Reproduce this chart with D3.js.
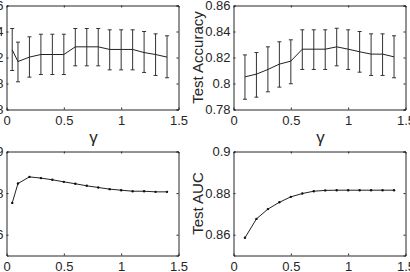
<!DOCTYPE html>
<html>
<head>
<meta charset="utf-8">
<script src="https://cdn.jsdelivr.net/npm/d3@7"></script>
<style>
  body { margin: 0; background: #fff; }
  svg { display: block; font-family: "Liberation Sans", Arial, sans-serif; }
</style>
</head>
<body>
<div id="chart"></div>
<script>
// data
var gammaA = [0.05, 0.1, 0.2, 0.3, 0.4, 0.5, 0.6, 0.7, 0.8, 0.9, 1.0, 1.1, 1.2, 1.3, 1.4];
var accA   = [0.8259, 0.8169, 0.8203, 0.8223, 0.8223, 0.8223, 0.8282, 0.8282, 0.8282, 0.8262, 0.8262, 0.8262, 0.8238, 0.8223, 0.8203];
var accAHi = [0.8423, 0.8318, 0.8359, 0.8379, 0.8379, 0.8379, 0.8423, 0.8423, 0.8423, 0.8413, 0.8413, 0.8413, 0.8400, 0.8382, 0.8367];
var accALo = [0.8100, 0.8013, 0.8049, 0.8069, 0.8069, 0.8069, 0.8136, 0.8136, 0.8136, 0.8105, 0.8105, 0.8105, 0.8085, 0.8062, 0.8044];

var gammaB = [0.1, 0.2, 0.3, 0.4, 0.5, 0.6, 0.7, 0.8, 0.9, 1.0, 1.1, 1.2, 1.3, 1.4];
var accB   = [0.8051, 0.8072, 0.8108, 0.8149, 0.8172, 0.8264, 0.8264, 0.8264, 0.8282, 0.8264, 0.8244, 0.8226, 0.8226, 0.8205];
var accBHi = [0.8220, 0.8238, 0.8282, 0.8321, 0.8336, 0.8413, 0.8413, 0.8413, 0.8425, 0.8413, 0.8400, 0.8382, 0.8382, 0.8367];
var accBLo = [0.7879, 0.7895, 0.7936, 0.7972, 0.7998, 0.8108, 0.8108, 0.8108, 0.8136, 0.8108, 0.8087, 0.8062, 0.8062, 0.8044];

var aucA = [0.8753, 0.8846, 0.8878, 0.8872, 0.8864, 0.8854, 0.8845, 0.8835, 0.8827, 0.8819, 0.8814, 0.8809, 0.8809, 0.8806, 0.8806];
var aucB = [0.8585, 0.8676, 0.8723, 0.8756, 0.8782, 0.8798, 0.8809, 0.8813, 0.8814, 0.8814, 0.8814, 0.8814, 0.8814, 0.8814];

var xTicks = [0, 0.5, 1, 1.5];
var accTicks = [0.78, 0.8, 0.82, 0.84, 0.86];
var aucTicks = [0.86, 0.88, 0.9];

var W = 410, H = 272;
var ink = "#262626";

var svg = d3.select("#chart").append("svg")
  .attr("width", W)
  .attr("height", H);

// one panel = box, ticks on all sides, labels left/bottom
function panel(box, yDomain, yTicks, ylabel) {
  var x = d3.scaleLinear().domain([0, 1.5]).range([box.x0, box.x1]);
  var y = d3.scaleLinear().domain(yDomain).range([box.y1, box.y0]);
  var g = svg.append("g");

  var fmt = function(d) { return String(d); };

  g.append("g")
    .attr("transform", "translate(0," + box.y1 + ")")
    .call(d3.axisBottom(x).tickValues(xTicks).tickFormat(fmt).tickSize(-2).tickPadding(6));
  g.append("g")
    .attr("transform", "translate(0," + box.y0 + ")")
    .call(d3.axisTop(x).tickValues(xTicks).tickFormat("").tickSize(-2));
  g.append("g")
    .attr("transform", "translate(" + box.x0 + ",0)")
    .call(d3.axisLeft(y).tickValues(yTicks).tickFormat(fmt).tickSize(-2).tickPadding(3));
  g.append("g")
    .attr("transform", "translate(" + box.x1 + ",0)")
    .call(d3.axisRight(y).tickValues(yTicks).tickFormat("").tickSize(-2));

  g.selectAll(".domain").attr("stroke", ink).attr("stroke-width", 1);
  g.selectAll(".tick line").attr("stroke", ink);
  g.selectAll(".tick text").attr("fill", ink).style("font-size", "13px");
  g.selectAll(".tick")
    .filter(function(d) { return d === 0 || d === 1.5; })
    .select("line").remove();

  // gamma label
  g.append("text")
    .attr("x", (box.x0 + box.x1) / 2 + 1)
    .attr("y", box.y1 + 33)
    .attr("text-anchor", "middle")
    .attr("fill", ink)
    .style("font-size", "17px")
    .text("γ");

  // y label (left column's label sits off the page, as in the picture)
  if (ylabel) {
    g.append("text")
      .attr("transform", "translate(" + (box.x0 - 31) + "," + ((box.y0 + box.y1) / 2) + ") rotate(-90)")
      .attr("text-anchor", "middle")
      .attr("fill", ink)
      .style("font-size", "15px")
      .text(ylabel);
  }

  return {g: g, x: x, y: y};
}

function errorLine(p, xs, ys, lo, hi) {
  var line = d3.line()
    .x(function(d, i) { return p.x(xs[i]); })
    .y(function(d) { return p.y(d); });
  var bars = p.g.append("g").attr("stroke", "#333").attr("stroke-width", 1).attr("fill", "none");
  xs.forEach(function(v, i) {
    var cx = p.x(v);
    bars.append("line").attr("x1", cx).attr("x2", cx).attr("y1", p.y(lo[i])).attr("y2", p.y(hi[i]));
    bars.append("line").attr("x1", cx - 2).attr("x2", cx + 2).attr("y1", p.y(lo[i])).attr("y2", p.y(lo[i]));
    bars.append("line").attr("x1", cx - 2).attr("x2", cx + 2).attr("y1", p.y(hi[i])).attr("y2", p.y(hi[i]));
  });
  p.g.append("path")
    .datum(ys)
    .attr("fill", "none")
    .attr("stroke", "#222")
    .attr("stroke-width", 1)
    .attr("d", line);
}

function dotLine(p, xs, ys) {
  var line = d3.line()
    .x(function(d, i) { return p.x(xs[i]); })
    .y(function(d) { return p.y(d); });
  p.g.append("path")
    .datum(ys)
    .attr("fill", "none")
    .attr("stroke", "#222")
    .attr("stroke-width", 1)
    .attr("d", line);
  p.g.selectAll(".pt")
    .data(ys)
    .enter()
    .append("circle")
      .attr("cx", function(d, i) { return p.x(xs[i]); })
      .attr("cy", function(d) { return p.y(d); })
      .attr("r", 1.2)
      .attr("fill", "#111");
}

var tl = panel({x0: 6.5, x1: 178.5, y0: 5.5, y1: 109.5}, [0.78, 0.86], accTicks, null);
errorLine(tl, gammaA, accA, accALo, accAHi);

var tr = panel({x0: 233.5, x1: 405.5, y0: 5.5, y1: 109.5}, [0.78, 0.86], accTicks, "Test Accuracy");
errorLine(tr, gammaB, accB, accBLo, accBHi);

var bl = panel({x0: 6.5, x1: 178.5, y0: 151.5, y1: 255.5}, [0.85, 0.9], aucTicks, null);
dotLine(bl, gammaA, aucA);

var br = panel({x0: 233.5, x1: 405.5, y0: 151.5, y1: 255.5}, [0.85, 0.9], aucTicks, "Test AUC");
dotLine(br, gammaB, aucB);
</script>
</body>
</html>
